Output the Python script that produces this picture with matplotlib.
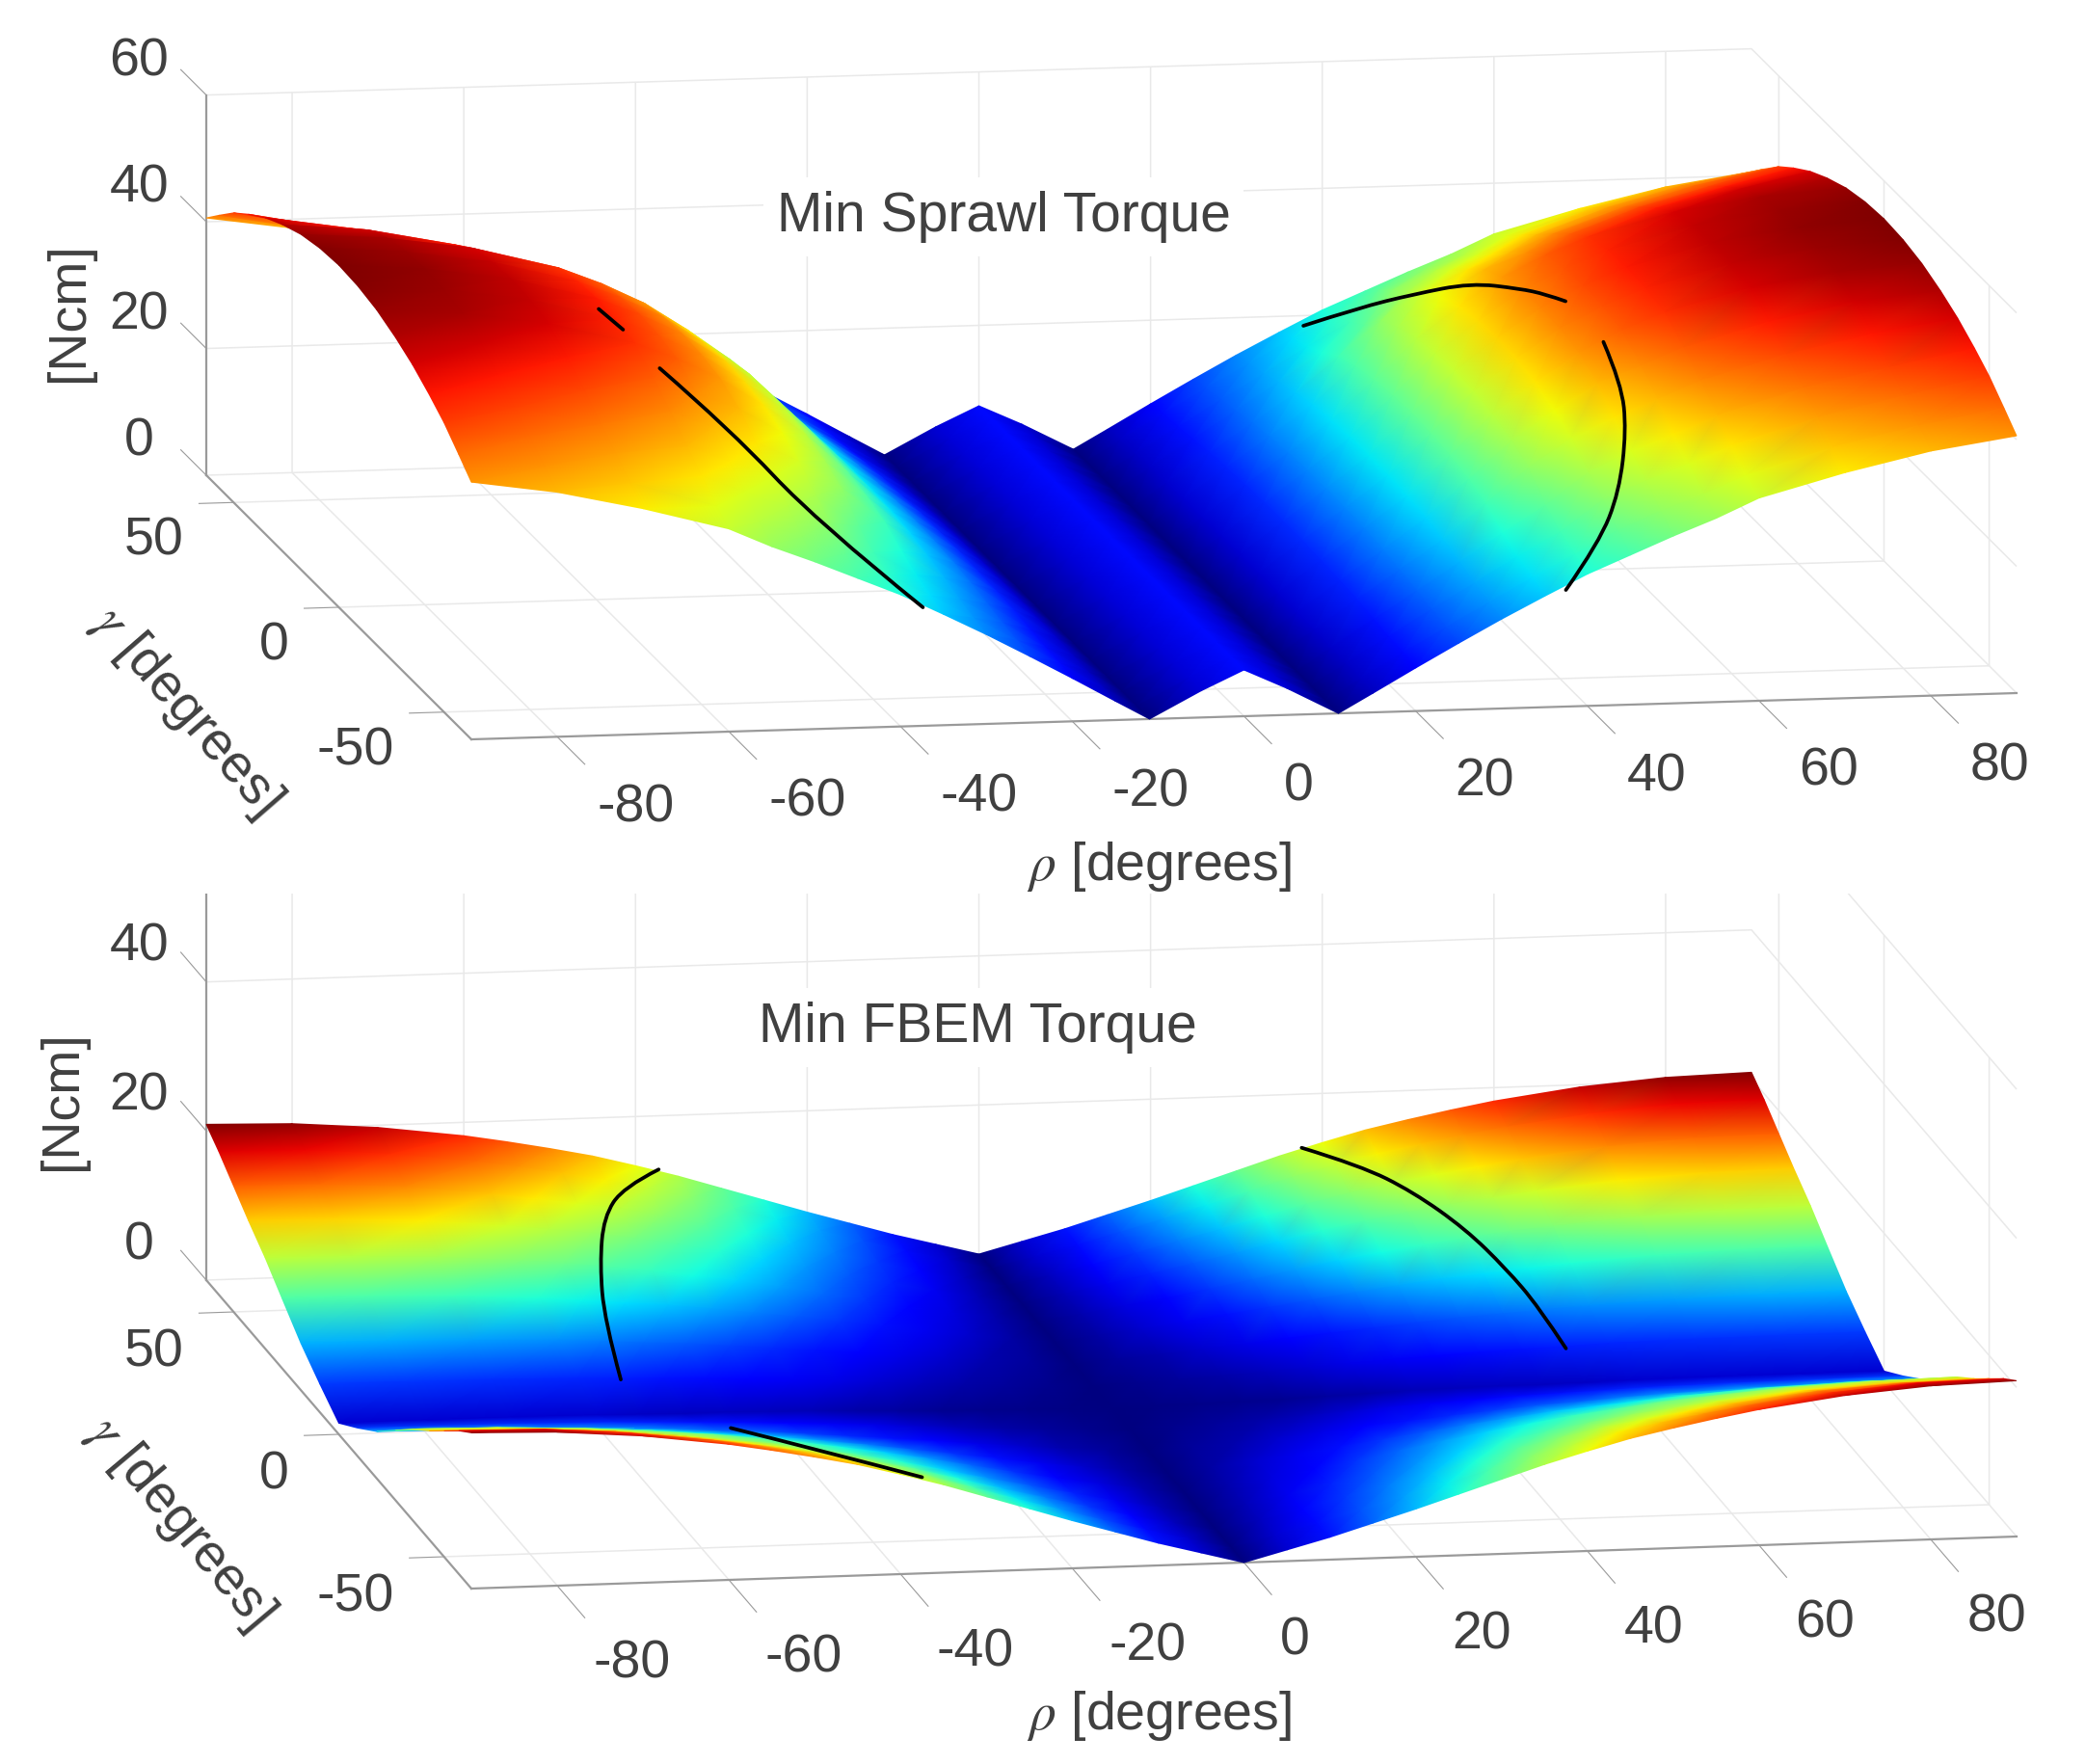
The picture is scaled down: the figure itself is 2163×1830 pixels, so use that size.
import numpy as np
import matplotlib
matplotlib.use("Agg")
import matplotlib.pyplot as plt
from mpl_toolkits.mplot3d import proj3d, Axes3D  # noqa
from matplotlib.patches import Rectangle, PathPatch
from matplotlib.path import Path

plt.rcParams['font.family'] = ['Liberation Sans', 'DejaVu Sans']
plt.rcParams['axes.unicode_minus'] = False
plt.rcParams['mathtext.fontset'] = 'stix'

FIG_W, FIG_H = 2163, 1830

# ---- data (surfaces are mirror-symmetric in rho and gamma) ----
gamma_half = [0, 9, 18, 27, 35, 43, 50, 57, 63]

sprawl_rho_half = [0, 5, 11, 15, 20, 25, 30, 35, 40, 45, 50, 55, 60, 70, 80, 90]
sprawl_torque = [
    [7.3, 4.2, 0, 4.0, 9.0, 14.0, 19.0, 25.5, 32.0, 37.0, 41.5, 44.8, 47.5, 51.0, 53.0, 54.0],
    [7.3, 4.2, 0, 4.0, 9.0, 13.9, 18.9, 25.3, 31.8, 36.7, 41.2, 44.5, 47.2, 50.7, 52.7, 53.7],
    [7.3, 4.2, 0, 3.9, 8.8, 13.7, 18.6, 24.8, 31.1, 36.0, 40.4, 43.7, 46.4, 49.9, 51.9, 52.9],
    [7.3, 4.2, 0, 3.8, 8.6, 13.3, 18.1, 24.0, 29.9, 34.6, 38.6, 41.1, 43.8, 47.5, 50.2, 51.5],
    [7.3, 4.2, 0, 3.7, 8.3, 12.8, 17.3, 22.8, 28.3, 32.8, 35.9, 38.5, 41.2, 45.0, 47.8, 49.9],
    [7.3, 4.2, 0, 3.5, 7.8, 12.1, 16.4, 20.8, 25.0, 30.0, 33.2, 35.7, 38.4, 42.3, 45.2, 47.8],
    [7.3, 4.2, 0, 3.3, 7.4, 11.5, 15.4, 19.4, 23.1, 28.0, 30.8, 33.3, 36.0, 40.0, 43.0, 45.7],
    [7.3, 4.2, 0, 3.2, 7.2, 11.0, 14.7, 18.4, 21.9, 25.5, 28.3, 30.8, 33.6, 37.6, 40.6, 43.0],
    [7.3, 4.2, 0, 3.0, 6.8, 10.5, 14.1, 17.5, 20.8, 23.6, 26.4, 29.0, 32.0, 35.6, 38.6, 40.6],
]

fbem_rho_half = [0, 5, 10, 15, 20, 25, 30, 35, 40, 45, 50, 55, 60, 70, 80, 90]
fbem_torque = [
    [0, 0.1, 0.2, 0.3, 0.4, 0.6, 0.8, 1.0, 1.1, 1.2, 1.2, 1.3, 1.4, 1.5, 1.5, 1.5],
    [0, 0.3, 0.5, 0.8, 1.1, 1.5, 1.9, 2.2, 2.5, 2.8, 3.0, 3.2, 3.4, 3.6, 3.7, 3.8],
    [0, 0.5, 0.9, 1.4, 1.9, 2.5, 3.0, 3.5, 4.0, 4.5, 4.8, 5.2, 5.5, 5.9, 6.2, 6.3],
    [0, 0.7, 1.4, 2.1, 2.9, 3.7, 4.5, 5.3, 6.0, 6.7, 7.2, 7.7, 8.2, 8.9, 9.3, 9.4],
    [0, 0.9, 1.8, 2.7, 3.7, 4.8, 5.9, 6.9, 7.8, 8.7, 9.4, 10.1, 10.6, 11.5, 12.0, 12.2],
    [0, 1.0, 2.1, 3.3, 4.5, 5.7, 7.0, 8.3, 9.4, 10.4, 11.3, 12.0, 12.7, 13.8, 14.4, 14.6],
    [0, 1.2, 2.4, 3.8, 5.2, 6.6, 8.1, 9.6, 10.9, 12.1, 13.0, 13.9, 14.7, 16.0, 16.7, 16.9],
    [0, 1.4, 2.8, 4.3, 5.9, 7.5, 9.2, 10.9, 12.3, 13.7, 14.8, 15.8, 16.7, 18.1, 19.0, 19.2],
    [0, 1.5, 3.0, 4.7, 6.4, 8.2, 10.0, 11.8, 13.4, 14.9, 16.1, 17.2, 18.2, 19.7, 20.6, 20.9],
]

# black curves: (rho, gamma, torque)
sprawl_curves = [
    [(37.8, 63, 18.4), (43.1, 58, 22.7), (44.4, 37.6, 31.5), (48, 25, 37.3), (50, 10, 41.3), (51.8, 5, 42), (52.9, 0, 42.5)],
    [(53, -17.6, 41.9), (51.7, -31.5, 39.9), (50, -40.7, 35.7), (46.7, -50.8, 29.5), (42.6, -58, 24), (37.5, -63, 18.4)],
    [(-61.2, -6, 47.9), (-60, -12.7, 46.8)],
    [(-58.8, -25.2, 44.8), (-53.6, -38, 39), (-47.3, -53, 29.3), (-37.4, -63, 18.7)],
]
fbem_curves = [
    [(-37.3, 63, 12.8), (-42.9, 57, 12.6), (-47.5, 47.5, 11.9), (-51, 35, 9.8), (-53.5, 22.7, 6.5), (-54.7, 10, 2.7)],
    [(37.6, 63, 12.8), (42.6, 55.4, 12.7), (46.7, 47.3, 11.7), (50.2, 36.5, 10.1), (52.6, 27, 7.8), (54.4, 19, 5.3), (55.4, 10, 2.6)],
    [(-49, -19, 5.5), (-44.4, -44.6, 10.6), (-37.5, -63, 12.9)],
]

rho_ticks = [-80, -60, -40, -20, 0, 20, 40, 60, 80]
gamma_ticks = [-50, 0, 50]
sprawl_z_ticks = [0, 20, 40, 60]
fbem_z_ticks = [0, 20, 40, 60]
sprawl_title = 'Min Sprawl Torque'
fbem_title = 'Min FBEM Torque'
rho_label = r'$\rho$ [degrees]'
gamma_label = r'$\gamma$ [degrees]'
z_label = '[Ncm]'

# ---- layout constants (pixels from top-left of the figure) ----
W_PX = 2300.0
TXT = '#404040'
AXC = '#9a9a9a'
GRID = '#e9e9e9'
FS = 40

fig = plt.figure(figsize=(FIG_W / 100, FIG_H / 100), dpi=100, facecolor='white')


def px(x, y):
    return x / FIG_W, 1 - y / FIG_H


def smooth_path(x, y):
    pts = np.column_stack([x, y])
    if len(pts) < 3:
        return Path(pts)
    verts = [pts[0]]
    codes = [Path.MOVETO]
    for i in range(1, len(pts) - 1):
        end = pts[i + 1] if i == len(pts) - 2 else (pts[i] + pts[i + 1]) / 2
        verts += [pts[i], end]
        codes += [Path.CURVE3, Path.CURVE3]
    return Path(verts, codes)


def panel(rho_half, table, curves, zticks, origin, vx, vy, vz, vmax, title, title_xy,
          rho_xy, gamma_xy, gamma_rot, ncm_xy, zbase, xpad):
    rho = np.array([-r for r in rho_half[:0:-1]] + list(rho_half), float)
    gam = np.array([-g for g in gamma_half[:0:-1]] + list(gamma_half), float)
    half = np.array(table, float)
    full = np.hstack([half[:, :0:-1], half])
    Z = np.vstack([full[:0:-1], full])

    tan_az_sin = vy[1] / -vy[0]
    cot_az_sin = vx[1] / vx[0]
    sin_el = np.sqrt(tan_az_sin * cot_az_sin)
    el = np.arcsin(sin_el)
    az = -np.pi + np.arctan(tan_az_sin / sin_el)

    ax = fig.add_axes([0, 0, W_PX / FIG_W, W_PX / FIG_H], projection='3d', proj_type='ortho',
                      zorder=zbase)
    ax.patch.set_visible(False)
    ax.view_init(elev=np.degrees(el), azim=np.degrees(az))
    ax.set_xlim(-90, 90)
    ax.set_ylim(-63, 63)
    ax.set_zlim(0, 60)
    k = 0.185 * 10 / W_PX
    ax._box_aspect = np.array([vx[0] / -np.sin(az) * k, vy[0] / np.cos(az) * k, vz / np.cos(el) * k])

    M = ax.get_proj()
    x0, y0, _ = proj3d.proj_transform(-90.0, 63.0, 0.0, M)
    vl = ax.viewLim
    sx = W_PX / (vl.x1 - vl.x0)
    sy = W_PX / (vl.y1 - vl.y0)
    left = origin[0] - (x0 - vl.x0) * sx
    bottom = (FIG_H - origin[1]) - (y0 - vl.y0) * sy
    rect = [left / FIG_W, bottom / FIG_H, W_PX / FIG_W, W_PX / FIG_H]
    ax.set_position(rect)

    # axes furniture
    ax.set_xticks(rho_ticks)
    ax.set_yticks(gamma_ticks)
    ax.set_zticks(zticks)
    for a, of in ((ax.xaxis, -1.3), (ax.yaxis, -0.28), (ax.zaxis, 1.2)):
        a.set_pane_color((1, 1, 1, 0))
        a.pane.set_edgecolor((1, 1, 1, 0))
        a.line.set_color(AXC)
        a.line.set_linewidth(1.6)
        a._axinfo['grid'].update(color=GRID, linewidth=1.1)
        a._axinfo['tick'].update(inward_factor=0, outward_factor=of)
    ax.tick_params(axis='both', labelsize=FS, labelcolor=TXT, color=AXC, width=1.5)
    ax.tick_params(axis='x', pad=xpad)
    ax.tick_params(axis='y', pad=20)
    ax.tick_params(axis='z', pad=24)
    ax.zaxis.set_ticks_position('upper')
    ax.zaxis._get_tickdir = lambda pos: 1
    for lab in ax.xaxis.get_ticklabels():
        lab.set_horizontalalignment('left')
        lab.set_verticalalignment('bottom')
    for lab in ax.yaxis.get_ticklabels():
        lab.set_horizontalalignment('right')
        lab.set_verticalalignment('top')
    for lab in ax.zaxis.get_ticklabels():
        lab.set_verticalalignment('bottom')
        lab.set_horizontalalignment('center')

    # surface: gouraud-shaded triangles, far ones first, on an overlay sharing the projection
    ov = fig.add_axes(rect, zorder=zbase + 1)
    ov.patch.set_visible(False)
    ov.set_axis_off()
    R, G = np.meshgrid(rho, gam)
    xs, ys, ds = proj3d.proj_transform(R.ravel(), G.ravel(), Z.ravel(), M)
    n = len(rho)
    tris = []
    for j in range(len(gam) - 1):
        for i in range(n - 1):
            a_, b_, c_, d_ = j * n + i, j * n + i + 1, (j + 1) * n + i + 1, (j + 1) * n + i
            tris += [(a_, b_, c_), (a_, c_, d_)]
    tris = np.array(tris)
    depth = ds[tris].mean(axis=1)
    tris = tris[np.argsort(depth)[::-1]]
    ov.tripcolor(xs, ys, tris, Z.ravel(), shading='gouraud', cmap='jet', vmin=0, vmax=vmax)
    ov.set_xlim(vl.x0, vl.x1)
    ov.set_ylim(vl.y0, vl.y1)
    for c in curves:
        c = np.array(c, float)
        cx, cy, _ = proj3d.proj_transform(c[:, 0], c[:, 1], c[:, 2], M)
        ov.add_patch(PathPatch(smooth_path(cx, cy), fill=False, edgecolor='black', lw=2.7,
                               capstyle='round'))

    tf = fig.transFigure
    ov.text(*px(*title_xy), title, transform=tf, fontsize=FS + 1, color=TXT, ha='center', va='center',
            bbox=dict(fc='white', ec='none', pad=10))
    ov.text(*px(*rho_xy), rho_label, transform=tf, fontsize=FS, color=TXT, ha='center', va='center')
    ov.text(*px(*gamma_xy), gamma_label, transform=tf, fontsize=FS, color=TXT, ha='center', va='center',
            rotation=gamma_rot, rotation_mode='anchor')
    ov.text(*px(*ncm_xy), z_label, transform=tf, fontsize=FS, color=TXT, ha='center', va='center', rotation=90)
    return ax


panel(fbem_rho_half, fbem_torque, fbem_curves, fbem_z_ticks, (214, 1328), (1603, 54), (-275, 320), 464,
      21.0, fbem_title, (1014, 1066), (1203, 1780), (186, 1580), -50, (65, 1142), 1, 110)

cover = fig.add_axes([0, 1 - 927 / FIG_H, 1, 927 / FIG_H], zorder=3)
cover.set_axis_off()
cover.add_patch(Rectangle((0, 0), 1, 1, transform=cover.transAxes, fc='white', ec='none'))

panel(sprawl_rho_half, sprawl_torque, sprawl_curves, sprawl_z_ticks, (214, 493), (1603, 48), (-275, 274), 394.4,
      54.0, sprawl_title, (1041, 225), (1203, 899), (193, 738), -49, (72, 324), 4, 121)

fig.savefig('out.png', dpi=100, facecolor='white')
